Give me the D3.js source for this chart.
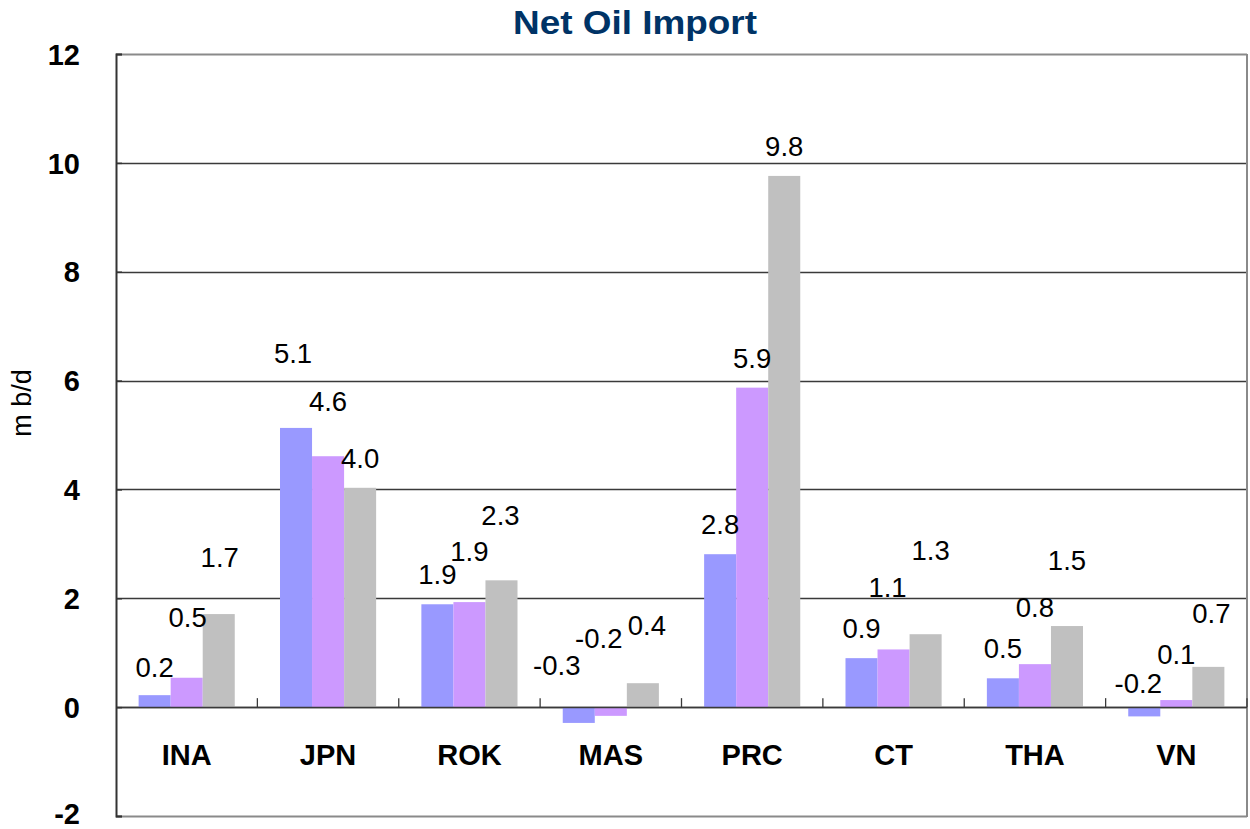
<!DOCTYPE html>
<html><head><meta charset="utf-8">
<script src="https://cdn.jsdelivr.net/npm/d3@7"></script>
<style>body{margin:0;background:#fff}svg{display:block}</style>
</head><body><svg id="chart" width="1250" height="829"></svg>
<script>
// ---- data ----
const categories = ["INA","JPN","ROK","MAS","PRC","CT","THA","VN"];
const series1 = [0.22,5.13,1.89,-0.29,2.81,0.90,0.53,-0.17];
const series2 = [0.54,4.61,1.93,-0.16,5.87,1.06,0.79,0.13];
const series3 = [1.71,4.03,2.33,0.44,9.76,1.34,1.49,0.74];
const yTicks = [-2,0,2,4,6,8,10,12];
const titleText = "Net Oil Import";
const yTitle = "m b/d";
// ---- label nudges (px, layout only) ----
const lift1 = [18,65,20,32,20,20,20,14];
const lift2 = [51,45,41,59,20,52,47,36];
const lift3 = [47,20,55,48,20,74,56,44];
const shift1 = [0,-3,0,-22,0,0,0,-6];
const shift2 = [1,0,0,-12,0,-6,0,0];
const shift3 = [1,0,-1,4,0,5,0,3];
const colors = ["#9999FF","#CC99FF","#C0C0C0"];

const svg = d3.select("#chart");
const L = 116, R = 1247, T = 54, B = 816;
const font = "'Liberation Sans', Arial, Helvetica, sans-serif";
const loc = d3.formatLocale({decimal: ".", thousands: ",", grouping: [3], currency: ["", ""], minus: "-"});

const x = d3.scaleBand().domain(categories).range([L, R]).paddingInner(0).paddingOuter(0);
const bw = x.bandwidth();
const xi = d3.scaleBand().domain([0,1,2]).range([bw*0.16, bw*0.84]).padding(0);
const y = d3.scaleLinear().domain([-2, 12]).range([B, T]);

// gridlines
svg.append("g").selectAll("line").data(yTicks).join("line")
  .attr("x1", L).attr("x2", R)
  .attr("y1", d => Math.round(y(d)) + 0.5).attr("y2", d => Math.round(y(d)) + 0.5)
  .attr("stroke", d => (d === 12 || d === -2) ? "#8a8a8a" : "#3a3a3a")
  .attr("stroke-width", d => (d === 12 || d === -2) ? 2 : 1.3);

// right border
svg.append("line").attr("x1", R).attr("x2", R).attr("y1", T).attr("y2", B + 1)
  .attr("stroke", "#8a8a8a").attr("stroke-width", 2);

// bars
const seriesList = [series1, series2, series3];
const lifts = [lift1, lift2, lift3];
const shifts = [shift1, shift2, shift3];
const data = [];
categories.forEach((c, i) => seriesList.forEach((s, k) => data.push({c, i, k, v: s[i]})));

svg.append("g").selectAll("rect").data(data).join("rect")
  .attr("x", d => x(d.c) + xi(d.k))
  .attr("width", xi.bandwidth())
  .attr("y", d => y(Math.max(0, d.v)))
  .attr("height", d => Math.abs(y(d.v) - y(0)))
  .attr("fill", d => colors[d.k]);

// zero line
svg.append("line").attr("x1", L).attr("x2", R)
  .attr("y1", Math.round(y(0)) + 0.5).attr("y2", Math.round(y(0)) + 0.5)
  .attr("stroke", "#3a3a3a").attr("stroke-width", 1.5);

// category tick marks on zero line
svg.append("g").selectAll("line").data(categories).join("line")
  .attr("x1", d => x(d) + bw).attr("x2", d => x(d) + bw)
  .attr("y1", y(0)).attr("y2", y(0) - 9)
  .attr("stroke", "#3a3a3a").attr("stroke-width", 1.3);

// y axis
const yAxis = d3.axisLeft(y).tickValues(yTicks).tickSize(-6).tickPadding(36).tickFormat(loc.format("d"));
const ya = svg.append("g").attr("transform", `translate(${L},0)`).call(yAxis);
ya.select(".domain").attr("stroke", "#333").attr("stroke-width", 2);
ya.selectAll(".tick line").attr("stroke", "#333").attr("stroke-width", 1.5);
ya.selectAll(".tick text").attr("font-family", font).attr("font-size", 29)
  .attr("font-weight", "bold").attr("fill", "#000").attr("dy", d => d === -2 ? "0.25em" : "0.35em");

// category labels
svg.append("g").selectAll("text").data(categories).join("text")
  .attr("x", d => x(d) + bw / 2).attr("y", 765)
  .attr("text-anchor", "middle").attr("font-family", font)
  .attr("font-size", 29).attr("font-weight", "bold").attr("fill", "#000")
  .text(d => d);

// data labels
const fmt = loc.format(".1f");
svg.append("g").selectAll("text").data(data).join("text")
  .attr("x", d => x(d.c) + xi(d.k) + xi.bandwidth() / 2 + shifts[d.k][d.i])
  .attr("y", d => y(Math.max(0, d.v)) - lifts[d.k][d.i])
  .attr("text-anchor", "middle").attr("font-family", font)
  .attr("font-size", 27.5).attr("fill", "#000")
  .text(d => fmt(d.v));

// title
svg.append("text").attr("x", 635).attr("y", 34).attr("text-anchor", "middle")
  .attr("font-family", font).attr("font-size", 33).attr("font-weight", "bold")
  .attr("fill", "#003366").attr("textLength", 244).attr("lengthAdjust", "spacingAndGlyphs")
  .text(titleText);

// y title
svg.append("text").attr("transform", "translate(31,403) rotate(-90)")
  .attr("text-anchor", "middle").attr("font-family", font).attr("font-size", 27)
  .attr("fill", "#000").text(yTitle);
</script></body></html>
